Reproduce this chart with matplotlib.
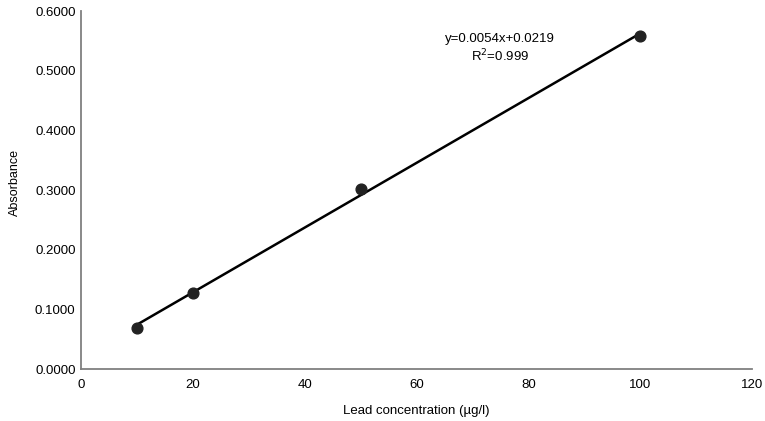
import numpy as np
import matplotlib
matplotlib.use('Agg')
import matplotlib.pyplot as plt

plt.rcParams['font.family'] = ['Liberation Sans', 'DejaVu Sans']

# calibration points
conc = [10, 20, 50, 100]          # ug/l
absorb = [0.069, 0.128, 0.302, 0.558]
eq_text = 'y=0.0054x+0.0219\nR$^2$=0.999'
xticks = [0, 20, 40, 60, 80, 100, 120]
yticks = [0.0, 0.1, 0.2, 0.3, 0.4, 0.5, 0.6]

fig = plt.figure(figsize=(7.65, 4.21), dpi=100)
ax = fig.add_axes([0.106, 0.1235, 0.877, 0.85])

slope, inter = np.polyfit(conc, absorb, 1)
xx = np.array([conc[0], conc[-1]])
ax.plot(xx, slope * xx + inter, color='black', lw=1.8, zorder=2)
ax.scatter(conc, absorb, s=60, color='#222222', zorder=3)

ax.text(75, 0.537, eq_text, ha='center', va='center', fontsize=9.5,
        linespacing=1.15)

ax.set_xlim(0, 120)
ax.set_ylim(0, 0.6)
ax.set_xticks(xticks)
ax.set_yticks(yticks)
ax.set_yticklabels(['%.4f' % v for v in yticks])
ax.tick_params(length=0, labelsize=9.5)
ax.tick_params(axis='y', pad=4)
ax.tick_params(axis='x', pad=7)
for s in ['top', 'right']:
    ax.spines[s].set_visible(False)
for s in ['left', 'bottom']:
    ax.spines[s].set_color('#808080')
    ax.spines[s].set_linewidth(1.3)

ax.set_xlabel('Lead concentration (\u00b5g/l)', fontsize=9.5, labelpad=10)
ax.set_ylabel('Absorbance', fontsize=9)
ax.yaxis.set_label_coords(-0.09, 0.52)

fig.savefig('out.png', dpi=100)
